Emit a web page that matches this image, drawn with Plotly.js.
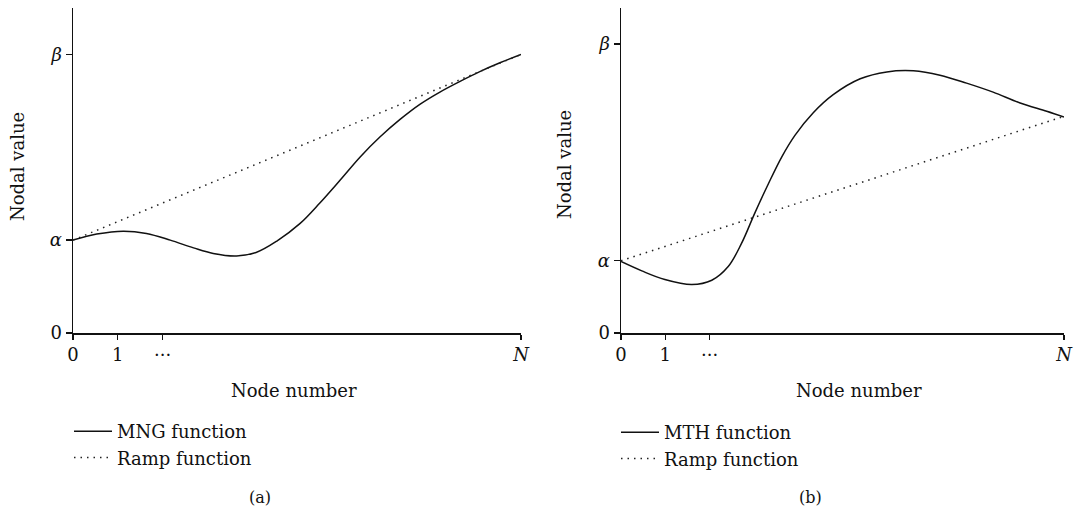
<!DOCTYPE html>
<html>
<head>
<meta charset="utf-8">
<script src="https://cdn.plot.ly/plotly-3.0.1.min.js"></script>
<style>html,body{margin:0;padding:0;background:#fff;}#chart{width:1074px;height:510px;}</style>
</head>
<body>
<div id="chart"></div>
<script>
// Panel (a): MNG function vs ramp
const mngX = [0, 0.53, 1.12, 1.64, 2.17, 2.69, 3.13, 3.65, 4.1, 4.55, 5.07, 5.51, 5.96, 6.41, 6.85, 7.30, 7.75, 8.19, 8.64, 9.08, 9.53, 10];
const mngY = [1.0, 1.065, 1.097, 1.072, 1.0, 0.917, 0.857, 0.83, 0.87, 0.99, 1.18, 1.40, 1.645, 1.896, 2.11, 2.30, 2.465, 2.595, 2.71, 2.815, 2.91, 3.0];
const rampAX = [0, 10];
const rampAY = [1, 3];

// Panel (b): MTH function vs ramp
const mthX = [0, 0.47, 0.99, 1.6, 2.05, 2.42, 2.72, 3.02, 3.33, 3.63, 3.93, 4.34, 4.79, 5.40, 6.0, 6.6, 7.2, 7.8, 8.4, 9.01, 9.61, 10];
const mthY = [0.99, 0.86, 0.74, 0.67, 0.73, 0.92, 1.24, 1.66, 2.07, 2.44, 2.74, 3.05, 3.30, 3.52, 3.615, 3.63, 3.57, 3.46, 3.335, 3.185, 3.07, 2.99];
const rampBX = [0, 10];
const rampBY = [1, 3];

// Tick labels
const xTickVals = [0, 1, 2, 10];
const xTickText = ['0', '1', '\u00B7\u00B7\u00B7', '<i>N</i>'];
const yTickValsA = [0, 1, 3];
const yTickValsB = [0, 1, 4];
const yTickText = ['0', '<i>\u03B1</i>', '<i>\u03B2</i>'];

const FONT = 'DejaVu Serif, Liberation Serif, serif';
const W = 1074, H = 510;

const solid = {color: '#111', width: 1.5};
const dotted = {color: '#222', width: 1.5, dash: '1.5px,5px'};

const traces = [
  {x: mngX, y: mngY, mode: 'lines', line: Object.assign({shape: 'spline', smoothing: 1}, solid), name: 'MNG function', xaxis: 'x', yaxis: 'y', legend: 'legend', legendgroup: 'a1'},
  {x: rampAX, y: rampAY, mode: 'lines', line: dotted, name: 'Ramp function', xaxis: 'x', yaxis: 'y', legend: 'legend', legendgroup: 'a2'},
  {x: mthX, y: mthY, mode: 'lines', line: Object.assign({shape: 'spline', smoothing: 1}, solid), name: 'MTH function', xaxis: 'x2', yaxis: 'y2', legend: 'legend2', legendgroup: 'b1'},
  {x: rampBX, y: rampBY, mode: 'lines', line: dotted, name: 'Ramp function', xaxis: 'x2', yaxis: 'y2', legend: 'legend2', legendgroup: 'b2'}
];

function xax(domain) {
  return {
    domain: domain, range: [0, 10], showgrid: false, zeroline: false,
    showline: true, linecolor: '#111', linewidth: 1.5,
    ticks: 'outside', ticklen: 5, tickwidth: 1.3, tickcolor: '#111',
    tickmode: 'array', tickvals: xTickVals, ticktext: xTickText,
    tickfont: {family: FONT, size: 18, color: '#111'}, fixedrange: true
  };
}
function yax(anchor, range, vals) {
  return {
    domain: [(H - 333) / H, (H - 8) / H], range: range, anchor: anchor,
    showgrid: false, zeroline: false,
    showline: true, linecolor: '#111', linewidth: 1.5,
    ticks: 'outside', ticklen: 6, tickwidth: 1.3, tickcolor: '#111',
    tickmode: 'array', tickvals: vals, ticktext: yTickText,
    tickfont: {family: FONT, size: 18, color: '#111'}, fixedrange: true
  };
}

const ann = (text, px, py, extra) => Object.assign({
  text: text, xref: 'paper', yref: 'paper', x: px / W, y: (H - py) / H,
  xanchor: 'center', yanchor: 'middle', showarrow: false,
  font: {family: FONT, size: 18, color: '#111'}
}, extra || {});

const legendBase = {
  font: {family: FONT, size: 18, color: '#111'}, bgcolor: 'rgba(0,0,0,0)',
  xref: 'paper', yref: 'paper', xanchor: 'left', yanchor: 'top',
  traceorder: 'grouped', tracegroupgap: 0, itemwidth: 38
};

const layout = {
  width: W, height: H,
  margin: {l: 0, r: 0, t: 0, b: 0},
  paper_bgcolor: '#fff', plot_bgcolor: '#fff',
  showlegend: true,
  xaxis: Object.assign(xax([73 / W, 521 / W]), {anchor: 'y'}),
  yaxis: yax('x', [0, 3.5], yTickValsA),
  xaxis2: Object.assign(xax([621 / W, 1064 / W]), {anchor: 'y2'}),
  yaxis2: yax('x2', [0, 4.5], yTickValsB),
  legend: Object.assign({}, legendBase, {x: 69 / W, y: (H - 413) / H}),
  legend2: Object.assign({}, legendBase, {x: 616 / W, y: (H - 414) / H}),
  annotations: [
    ann('Node number', 294, 391),
    ann('Node number', 859, 391),
    ann('Nodal value', 18, 167, {textangle: -90}),
    ann('Nodal value', 565, 165, {textangle: -90}),
    ann('(a)', 260, 497, {font: {family: FONT, size: 16, color: '#111'}}),
    ann('(b)', 810, 497, {font: {family: FONT, size: 16, color: '#111'}})
  ]
};

Plotly.newPlot('chart', traces, layout, {displayModeBar: false, staticPlot: true});
</script>
</body>
</html>
